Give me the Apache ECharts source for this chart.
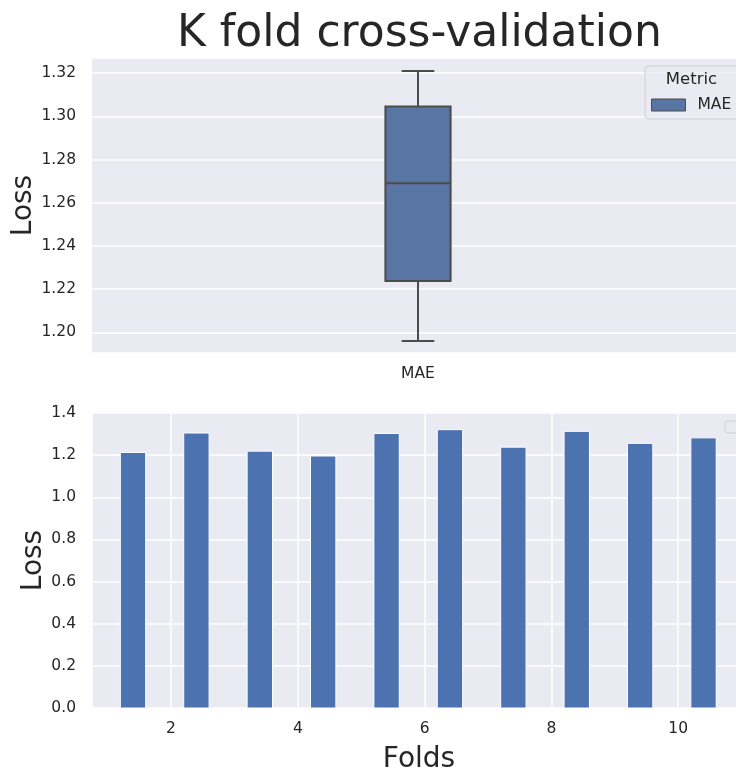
<!DOCTYPE html>
<html><head><meta charset="utf-8">
<script src="https://cdn.jsdelivr.net/npm/echarts@6/dist/echarts.min.js"></script>
<style>html,body{margin:0;padding:0;background:#fff}#c{width:736px;height:770px}</style>
</head><body><div id="c"></div>
<script>
// ---- data ----
const folds = [1, 2, 3, 4, 5, 6, 7, 8, 9, 10];
const foldLoss = [1.213, 1.305, 1.219, 1.196, 1.303, 1.321, 1.238, 1.313, 1.256, 1.282];
const metricCategories = ['MAE'];
const foldTickValues = [2, 4, 6, 8, 10];
const titleText = 'K fold cross-validation';

// ---- box statistics derived from the fold losses ----
function quantile(sorted, p) {
  const idx = (sorted.length - 1) * p, lo = Math.floor(idx), hi = Math.ceil(idx);
  return sorted[lo] + (sorted[hi] - sorted[lo]) * (idx - lo);
}
const sorted = foldLoss.slice().sort((a, b) => a - b);
const q1 = quantile(sorted, 0.25), med = quantile(sorted, 0.5), q3 = quantile(sorted, 0.75);
const iqr = q3 - q1;
const wLo = Math.min(...sorted.filter(v => v >= q1 - 1.5 * iqr));
const wHi = Math.max(...sorted.filter(v => v <= q3 + 1.5 * iqr));
const boxData = [[0, wLo, q1, med, q3, wHi]];

const TXT = '#262626', BG = '#EAEAF2', FONT = 'DejaVu Sans';
const BOX_FILL = '#5875A4', EDGE = '#4c4c4c', BAR = '#4C72B0';

const chart = echarts.init(document.getElementById('c'), null, {renderer: 'canvas'});
const isMult = (v, step) => Math.abs(v / step - Math.round(v / step)) < 1e-6;

chart.setOption({
  backgroundColor: '#fff',
  animation: false,
  textStyle: {fontFamily: FONT, color: TXT},
  title: {
    text: titleText, left: 172, top: 8,
    textStyle: {fontFamily: FONT, fontSize: 44, fontWeight: 'normal', color: TXT}
  },
  legend: {
    data: ['MAE'], left: 651, top: 97, padding: 0,
    icon: 'rect', itemWidth: 34, itemHeight: 12, z: 6,
    itemStyle: {borderColor: EDGE, borderWidth: 1},
    textStyle: {fontFamily: FONT, fontSize: 15.5, color: TXT, padding: [0, 0, 0, 7]}
  },
  grid: [
    {left: 92, top: 58, width: 652, height: 295, show: true, backgroundColor: BG, borderWidth: 0,
     containLabel: false, outerBoundsMode: 'none'},
    {left: 92, top: 413, width: 654, height: 295, show: true, backgroundColor: BG, borderWidth: 0,
     containLabel: false, outerBoundsMode: 'none'}
  ],
  xAxis: [
    {
      type: 'category', gridIndex: 0, data: metricCategories,
      axisLine: {show: false}, axisTick: {show: false}, splitLine: {show: false},
      axisLabel: {fontSize: 15.5, color: TXT, margin: 13}
    },
    {
      type: 'value', gridIndex: 1, min: 0.753, max: 11.07, splitNumber: 5,
      name: 'Folds', nameLocation: 'middle', nameGap: 38, nameMoveOverlap: false,
      nameTextStyle: {fontSize: 28, color: TXT},
      axisLine: {show: false}, axisTick: {show: false},
      splitLine: {show: true, lineStyle: {color: '#fff', width: 1.5}},
      axisLabel: {fontSize: 15.5, color: TXT, margin: 13,
        formatter: v => (isMult(v, 2) && foldTickValues.includes(Math.round(v))) ? String(Math.round(v)) : ''}
    }
  ],
  yAxis: [
    {
      type: 'value', gridIndex: 0, min: 1.1904, max: 1.3270, splitNumber: 6,
      name: 'Loss', nameLocation: 'middle', nameGap: 54, nameRotate: 90, nameMoveOverlap: false,
      nameTextStyle: {fontSize: 28, color: TXT},
      axisLine: {show: false}, axisTick: {show: false},
      splitLine: {show: true, lineStyle: {color: '#fff', width: 1.5}},
      axisLabel: {fontSize: 15.5, color: TXT, margin: 16,
        formatter: v => isMult(v, 0.02) ? v.toFixed(2) : ''}
    },
    {
      type: 'value', gridIndex: 1, min: 0, max: 1.4, interval: 0.2,
      name: 'Loss', nameLocation: 'middle', nameGap: 44, nameRotate: 90, nameMoveOverlap: false,
      nameTextStyle: {fontSize: 28, color: TXT},
      axisLine: {show: false}, axisTick: {show: false},
      splitLine: {show: true, lineStyle: {color: '#fff', width: 1.5}},
      axisLabel: {fontSize: 15.5, color: TXT, margin: 16, formatter: v => v.toFixed(1)}
    }
  ],
  graphic: [
    {type: 'rect', z: 5, shape: {x: 645, y: 66, width: 120, height: 53, r: 4},
     style: {fill: 'rgba(234,234,242,0.85)', stroke: '#cfcfd6', lineWidth: 1}},
    {type: 'text', z: 6, x: 691.5, y: 80,
     style: {text: 'Metric', fontFamily: FONT, fontSize: 16.5, fill: TXT, align: 'center', verticalAlign: 'middle'}},
    {type: 'rect', z: 5, shape: {x: 725, y: 421, width: 40, height: 12, r: 3},
     style: {fill: 'rgba(234,234,242,0.85)', stroke: '#cfcfd6', lineWidth: 1}}
  ],
  series: [
    {
      name: 'MAE', type: 'custom', xAxisIndex: 0, yAxisIndex: 0,
      itemStyle: {color: BOX_FILL},
      encode: {x: 0, y: [1, 2, 3, 4, 5]},
      data: boxData,
      renderItem: function (params, api) {
        const c = api.value(0);
        const pLo = api.coord([c, api.value(1)]), pQ1 = api.coord([c, api.value(2)]);
        const pMed = api.coord([c, api.value(3)]), pQ3 = api.coord([c, api.value(4)]);
        const pHi = api.coord([c, api.value(5)]);
        const band = api.size([1, 0])[0];
        const bw = band * 0.1, cw = band * 0.05, x = pMed[0];
        const st = {stroke: EDGE, lineWidth: 2, fill: null};
        return {type: 'group', children: [
          {type: 'line', shape: {x1: x, y1: pHi[1], x2: x, y2: pQ3[1]}, style: st},
          {type: 'line', shape: {x1: x, y1: pQ1[1], x2: x, y2: pLo[1]}, style: st},
          {type: 'line', shape: {x1: x - cw / 2, y1: pHi[1], x2: x + cw / 2, y2: pHi[1]}, style: st},
          {type: 'line', shape: {x1: x - cw / 2, y1: pLo[1], x2: x + cw / 2, y2: pLo[1]}, style: st},
          {type: 'rect', shape: {x: x - bw / 2, y: pQ3[1], width: bw, height: pQ1[1] - pQ3[1]},
           style: {fill: BOX_FILL, stroke: EDGE, lineWidth: 2}},
          {type: 'line', shape: {x1: x - bw / 2, y1: pMed[1], x2: x + bw / 2, y2: pMed[1]}, style: st}
        ]};
      }
    },
    {
      name: 'Fold loss', type: 'custom', xAxisIndex: 1, yAxisIndex: 1,
      itemStyle: {color: BAR},
      encode: {x: 0, y: 1},
      data: folds.map((f, i) => [f + 0.4, foldLoss[i]]),
      renderItem: function (params, api) {
        const xc = api.value(0), v = api.value(1);
        const p0 = api.coord([xc - 0.2, 0]), p1 = api.coord([xc + 0.2, v]);
        return {type: 'rect',
          shape: {x: p0[0], y: p1[1], width: p1[0] - p0[0], height: p0[1] - p1[1]},
          style: {fill: BAR, stroke: '#fff', lineWidth: 1}};
      }
    }
  ]
});
</script>
</body></html>
